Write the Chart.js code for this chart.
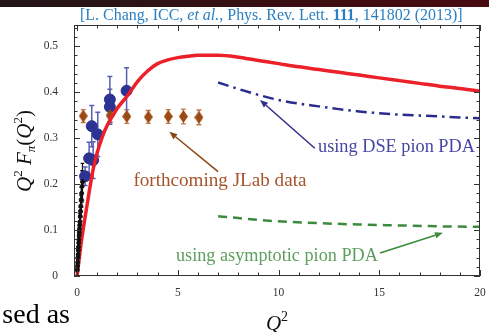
<!DOCTYPE html>
<html>
<head>
<meta charset="utf-8">
<script src="https://cdn.jsdelivr.net/npm/chart.js@4.4.0/dist/chart.umd.min.js"></script>
<style>
  html, body { margin: 0; padding: 0; background: #fff; overflow: hidden; }
  #wrap { width: 489px; height: 332px; }
</style>
</head>
<body>
<div id="wrap"><canvas id="pionChart" width="489" height="332"></canvas></div>
<script>
// ---- data ----
const theoryQ2 = [0, 0.1, 0.2, 0.3, 0.4, 0.6, 0.8, 1.0, 1.25, 1.5, 2, 2.5, 3, 3.5, 4, 4.5, 5, 5.5, 6, 7, 8, 9, 10, 11, 12, 13, 14, 15, 16, 17, 18, 19, 20];
const theoryF  = [0, 0.035, 0.07, 0.1, 0.128, 0.182, 0.232, 0.268, 0.302, 0.328, 0.365, 0.392, 0.423, 0.446, 0.462, 0.47, 0.475, 0.478, 0.48, 0.48, 0.476, 0.469, 0.462, 0.455, 0.449, 0.443, 0.437, 0.431, 0.425, 0.419, 0.413, 0.408, 0.402];

const dseQ2 = [7, 8, 9, 10, 11, 12, 13, 14, 15, 16, 17, 18, 19, 20];
const dseF  = [0.421, 0.407, 0.394, 0.383, 0.375, 0.369, 0.363, 0.358, 0.354, 0.351, 0.349, 0.347, 0.345, 0.343];

const asymQ2 = [7, 8, 9, 10, 12, 14, 16, 18, 20];
const asymF  = [0.130, 0.126, 0.122, 0.119, 0.115, 0.112, 0.110, 0.108, 0.107];

// existing JLab data (blue)
const jlabQ2  = [0.40, 0.60, 0.80, 0.73, 1.03, 1.63, 1.63, 2.46];
const jlabF   = [0.217, 0.256, 0.252, 0.326, 0.308, 0.384, 0.368, 0.403];
const jlabErr = [0.02, 0.035, 0.04, 0.045, 0.048, 0.05, 0.038, 0.05];

// forthcoming JLab projections (brown diamonds)
const futQ2  = [0.31, 1.64, 2.47, 3.54, 4.53, 5.28, 6.05];
const futF   = [0.348, 0.349, 0.347, 0.346, 0.347, 0.347, 0.345];
const futErr = [0.014, 0.014, 0.015, 0.014, 0.015, 0.016, 0.016];

// low-Q2 data (black)
const lowQ2  = [0.015, 0.025, 0.035, 0.045, 0.055, 0.065, 0.075, 0.085, 0.095, 0.105, 0.115, 0.125, 0.135, 0.145, 0.16, 0.175, 0.19, 0.21, 0.23, 0.25, 0.27];
const lowF   = [0.013, 0.022, 0.03, 0.04, 0.047, 0.056, 0.063, 0.072, 0.079, 0.088, 0.095, 0.103, 0.111, 0.118, 0.13, 0.141, 0.152, 0.166, 0.18, 0.195, 0.205];
const lowErr = [0.004, 0.005, 0.006, 0.007, 0.008, 0.009, 0.01, 0.011, 0.012, 0.013, 0.014, 0.015, 0.016, 0.018, 0.02, 0.022, 0.024, 0.027, 0.03, 0.034, 0.04];

const xTickVals = [0, 5, 10, 15, 20];
const yTickVals = [0, 0.1, 0.2, 0.3, 0.4, 0.5];
const xMinorVals = Array.from({ length: 21 }, (_, i) => i);
const yMinorVals = Array.from({ length: 28 }, (_, i) => +(i * 0.02).toFixed(2));

const serif = '"Liberation Serif", "DejaVu Serif", serif';

const pts = (xs, ys) => xs.map((x, i) => ({ x: x, y: ys[i] }));

// tall diamond marker for the projections
function diamondMarker(color) {
  const c = document.createElement('canvas');
  c.width = 9; c.height = 13;
  const g = c.getContext('2d');
  g.fillStyle = color;
  g.beginPath();
  g.moveTo(4.5, 0); g.lineTo(9, 6.5); g.lineTo(4.5, 13); g.lineTo(0, 6.5);
  g.closePath(); g.fill();
  return c;
}

function drawRuns(ctx, runs, x, y) {
  let cx = x;
  runs.forEach(r => {
    ctx.font = r.font;
    ctx.fillText(r.t, cx, y + (r.dy || 0));
    cx += ctx.measureText(r.t).width;
  });
  return cx - x;
}
function runsWidth(ctx, runs) {
  let w = 0;
  runs.forEach(r => { ctx.font = r.font; w += ctx.measureText(r.t).width; });
  return w;
}
function fitSize(ctx, text, target) {
  ctx.font = '20px ' + serif;
  return 20 * target / ctx.measureText(text).width;
}

function arrow(ctx, x1, y1, x2, y2, color, width) {
  ctx.strokeStyle = color; ctx.fillStyle = color; ctx.lineWidth = width;
  const a = Math.atan2(y2 - y1, x2 - x1);
  const hl = 8, hw = 3.2;
  const bx = x2 - hl * Math.cos(a), by = y2 - hl * Math.sin(a);
  ctx.beginPath(); ctx.moveTo(x1, y1); ctx.lineTo(bx, by); ctx.stroke();
  ctx.beginPath();
  ctx.moveTo(x2, y2);
  ctx.lineTo(bx + hw * Math.sin(a), by - hw * Math.cos(a));
  ctx.lineTo(bx - hw * Math.sin(a), by + hw * Math.cos(a));
  ctx.closePath(); ctx.fill();
}

const errorBars = {
  id: 'errorBars',
  beforeDatasetsDraw(chart) {
    const ctx = chart.ctx, xs = chart.scales.x, ys = chart.scales.y;
    ctx.save();
    chart.data.datasets.forEach(ds => {
      if (!ds.errors) return;
      ctx.strokeStyle = ds.errColor; ctx.lineWidth = ds.errWidth;
      ds.data.forEach((p, i) => {
        const px = xs.getPixelForValue(p.x);
        const top = ys.getPixelForValue(p.y + ds.errors[i]);
        const bot = ys.getPixelForValue(p.y - ds.errors[i]);
        ctx.beginPath();
        ctx.moveTo(px, top); ctx.lineTo(px, bot);
        ctx.moveTo(px - ds.capW, top); ctx.lineTo(px + ds.capW, top);
        ctx.moveTo(px - ds.capW, bot); ctx.lineTo(px + ds.capW, bot);
        ctx.stroke();
      });
    });
    ctx.restore();
  }
};

const decorations = {
  id: 'decorations',
  beforeDraw(chart) {
    const ctx = chart.ctx;
    ctx.save();
    ctx.fillStyle = '#fff';
    ctx.fillRect(0, 0, chart.width, chart.height);
    const g = ctx.createLinearGradient(0, 0, chart.width, 0);
    g.addColorStop(0, '#221616');
    g.addColorStop(1, '#4a0a10');
    ctx.fillStyle = g;
    ctx.fillRect(0, 0, chart.width, 7);
    ctx.restore();
  },
  afterDraw(chart) {
    const ctx = chart.ctx, xs = chart.scales.x, ys = chart.scales.y;
    const a = chart.chartArea;
    ctx.save();

    // frame with inward ticks
    ctx.strokeStyle = '#333'; ctx.lineWidth = 1;
    ctx.strokeRect(a.left + 0.5, a.top + 0.5, a.right - a.left - 1, a.bottom - a.top - 1);
    ctx.beginPath();
    xMinorVals.forEach(v => {
      const px = Math.round(xs.getPixelForValue(v)) + 0.5;
      const len = xTickVals.includes(v) ? 6 : 3.5;
      ctx.moveTo(px, a.bottom); ctx.lineTo(px, a.bottom - len);
      ctx.moveTo(px, a.top); ctx.lineTo(px, a.top + len);
    });
    yMinorVals.forEach(v => {
      const py = Math.round(ys.getPixelForValue(v)) + 0.5;
      const len = yTickVals.some(t => Math.abs(t - v) < 1e-6) ? 6 : 3.5;
      ctx.moveTo(a.left, py); ctx.lineTo(a.left + len, py);
      ctx.moveTo(a.right, py); ctx.lineTo(a.right - len, py);
    });
    ctx.stroke();

    ctx.textBaseline = 'alphabetic';
    ctx.textAlign = 'left';

    // citation at top
    ctx.fillStyle = '#2c7fbf';
    const citeParts = [
      { t: '[L. Chang, ICC, ', style: '' },
      { t: 'et al.', style: 'italic ' },
      { t: ', Phys. Rev. Lett. ', style: '' },
      { t: '111', style: 'bold ' },
      { t: ', 141802 (2013)]', style: '' }
    ];
    const mk = size => citeParts.map(r => ({ t: r.t, font: r.style + size.toFixed(2) + 'px ' + serif }));
    const cs = 14 * 383 / runsWidth(ctx, mk(14));
    drawRuns(ctx, mk(cs), 80, 20);

    // y-axis title
    ctx.fillStyle = '#111';
    const ty = [
      { t: 'Q', font: 'italic 21px ' + serif },
      { t: '2', font: '13px ' + serif, dy: -9 },
      { t: ' F', font: 'italic 21px ' + serif },
      { t: 'π', font: 'italic 13px ' + serif, dy: 4 },
      { t: '(', font: '21px ' + serif },
      { t: 'Q', font: 'italic 21px ' + serif },
      { t: '2', font: '13px ' + serif, dy: -9 },
      { t: ')', font: '21px ' + serif }
    ];
    ctx.save();
    ctx.translate(31, 151);
    ctx.rotate(-Math.PI / 2);
    drawRuns(ctx, ty, -runsWidth(ctx, ty) / 2, 0);
    ctx.restore();

    // x-axis title
    const tx = [
      { t: 'Q', font: 'italic 21px ' + serif },
      { t: '2', font: '14px ' + serif, dy: -9 }
    ];
    drawRuns(ctx, tx, 277 - runsWidth(ctx, tx) / 2, 330);

    // leftover slide text
    ctx.font = '28px ' + serif;
    ctx.fillStyle = '#000';
    ctx.textAlign = 'right';
    ctx.fillText('sed as', 70, 323);
    ctx.textAlign = 'left';

    // annotations, anchored in data units
    const P = (q, f) => [xs.getPixelForValue(q), ys.getPixelForValue(f)];
    let s, p;
    ctx.textBaseline = 'middle';

    s = fitSize(ctx, 'forthcoming JLab data', 173);
    ctx.font = s.toFixed(2) + 'px ' + serif; ctx.fillStyle = '#a5532a';
    p = P(2.8, 0.207); ctx.fillText('forthcoming JLab data', p[0], p[1]);
    arrow(ctx, ...P(7.0, 0.227), ...P(4.58, 0.314), '#8b4513', 1.5);

    s = fitSize(ctx, 'using DSE pion PDA', 157);
    ctx.font = s.toFixed(2) + 'px ' + serif; ctx.fillStyle = '#4646a6';
    p = P(11.96, 0.281); ctx.fillText('using DSE pion PDA', p[0], p[1]);
    arrow(ctx, ...P(11.8, 0.278), ...P(9.08, 0.383), '#2e2e8c', 1.5);

    s = fitSize(ctx, 'using asymptotic pion PDA', 202);
    ctx.font = s.toFixed(2) + 'px ' + serif; ctx.fillStyle = '#5e9e5e';
    p = P(4.91, 0.042); ctx.fillText('using asymptotic pion PDA', p[0], p[1]);
    arrow(ctx, ...P(15.04, 0.05), ...P(18.16, 0.094), '#3d8b3d', 1.8);

    ctx.restore();
  }
};

new Chart(document.getElementById('pionChart'), {
  type: 'scatter',
  data: {
    datasets: [
      {
        label: 'low Q2 data',
        data: pts(lowQ2, lowF),
        errors: lowErr, errColor: '#111', errWidth: 1.3, capW: 1.8,
        backgroundColor: '#111', borderColor: '#111',
        pointRadius: 2, showLine: false
      },
      {
        label: 'theory',
        data: pts(theoryQ2, theoryF),
        showLine: true, borderColor: '#ec2028', borderWidth: 3.5,
        pointRadius: 0, cubicInterpolationMode: 'monotone', fill: false
      },
      {
        label: 'DSE PDA',
        data: pts(dseQ2, dseF),
        showLine: true, borderColor: '#2b2d8e', borderWidth: 2.5,
        borderDash: [11, 5, 2.5, 5], pointRadius: 0, cubicInterpolationMode: 'monotone'
      },
      {
        label: 'asymptotic PDA',
        data: pts(asymQ2, asymF),
        showLine: true, borderColor: '#3d8a3d', borderWidth: 2.5,
        borderDash: [9, 6], pointRadius: 0, cubicInterpolationMode: 'monotone'
      },
      {
        label: 'forthcoming',
        data: pts(futQ2, futF),
        errors: futErr, errColor: '#c27a4a', errWidth: 1.4, capW: 2.5,
        pointStyle: diamondMarker('#9b4a12'), showLine: false
      },
      {
        label: 'JLab',
        data: pts(jlabQ2, jlabF),
        errors: jlabErr, errColor: '#5a5eb2', errWidth: 1.5, capW: 2.5,
        backgroundColor: '#2c3392', borderColor: '#2c3392',
        pointRadius: 5.5, showLine: false
      }
    ]
  },
  options: {
    responsive: false,
    animation: false,
    devicePixelRatio: 1,
    layout: { padding: { top: 25, right: 9, left: 0, bottom: 0 } },
    plugins: { legend: { display: false }, tooltip: { enabled: false } },
    scales: {
      x: {
        type: 'linear', min: -0.15, max: 20,
        grid: { display: false, drawTicks: false },
        border: { display: false },
        afterFit: s => { s.height = 56; s.paddingLeft = 0; s.paddingRight = 0; },
        afterBuildTicks: s => { s.ticks = xTickVals.map(v => ({ value: v })); },
        ticks: { color: '#333', font: { family: serif, size: 11.5 }, padding: 10, maxRotation: 0 }
      },
      y: {
        type: 'linear', min: 0, max: 0.546,
        grid: { display: false, drawTicks: false },
        border: { display: false },
        afterFit: s => { s.width = 74; s.paddingTop = 0; s.paddingBottom = 0; },
        afterBuildTicks: s => { s.ticks = yTickVals.map(v => ({ value: v })); },
        ticks: {
          color: '#333', font: { family: serif, size: 11.5 }, padding: 16,
          callback: v => (v === 0 ? '0' : v.toFixed(1))
        }
      }
    }
  },
  plugins: [decorations, errorBars]
});
</script>
</body>
</html>
